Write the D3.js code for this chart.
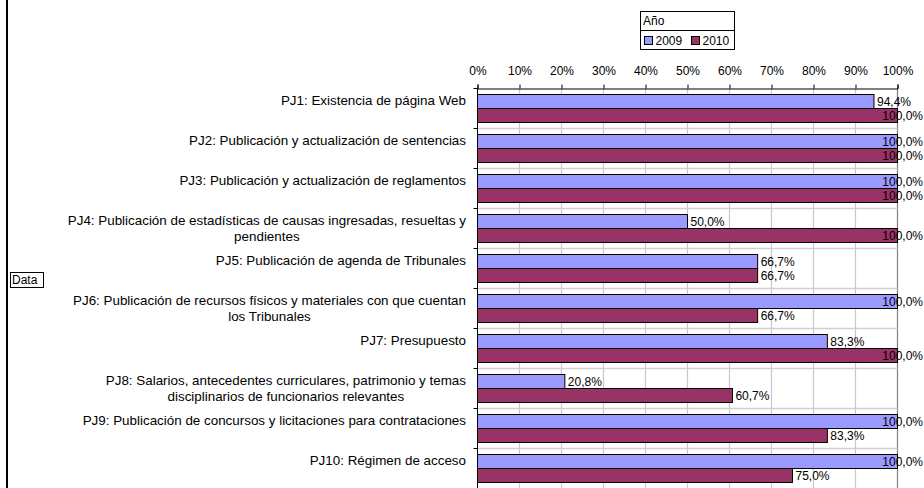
<!DOCTYPE html>
<html>
<head>
<meta charset="utf-8">
<script src="https://cdn.jsdelivr.net/npm/d3@7"></script>
<style>
  html, body { margin: 0; padding: 0; background: #fff; }
  svg { display: block; font-family: "Liberation Sans", Arial, sans-serif; }
</style>
</head>
<body>
<svg id="chart" width="924" height="488"></svg>
<script>
const categories = [
  'PJ1: Existencia de página Web',
  'PJ2: Publicación y actualización de sentencias',
  'PJ3: Publicación y actualización de reglamentos',
  'PJ4: Publicación de estadísticas de causas ingresadas, resueltas y\npendientes',
  'PJ5: Publicación de agenda de Tribunales',
  'PJ6: Publicación de recursos físicos y materiales con que cuentan\nlos Tribunales',
  'PJ7: Presupuesto',
  'PJ8: Salarios, antecedentes curriculares, patrimonio y temas\ndisciplinarios de funcionarios relevantes',
  'PJ9: Publicación de concursos y licitaciones para contrataciones',
  'PJ10: Régimen de acceso'
];
const years = ['2009', '2010'];
const values2009 = [0.944, 1, 1, 0.5, 0.667, 1, 0.833, 0.208, 1, 1];
const values2010 = [1, 1, 1, 1, 0.667, 0.667, 1, 0.607, 0.833, 0.75];
const ticks = [0, 0.1, 0.2, 0.3, 0.4, 0.5, 0.6, 0.7, 0.8, 0.9, 1];
const colors = { '2009': '#9999ff', '2010': '#993366' };

const svg = d3.select('#chart');
const fmtPct = d => d3.format('.1f')(d * 100).replace('.', ',') + '%';

const x = d3.scaleLinear().domain([0, 1]).range([477.5, 897.5]);
const y = d3.scaleBand().domain(categories).range([88.5, 488.5]);
const ySub = d3.scaleBand().domain(years).range([6, 34]);

// left frame edge
svg.append('line').attr('x1', 7).attr('x2', 7).attr('y1', 0).attr('y2', 488)
  .attr('stroke', '#000').attr('stroke-width', 2);

// grid
const grid = svg.append('g');
grid.selectAll('.vg').data(ticks.slice(1)).enter().append('line')
  .attr('x1', d => x(d)).attr('x2', d => x(d))
  .attr('y1', y.range()[0]).attr('y2', y.range()[1])
  .attr('stroke', d => d === 1 ? '#808080' : '#c8c8c8').attr('stroke-width', 1.2);
grid.selectAll('.hg').data(categories.slice(1)).enter().append('line')
  .attr('x1', x(0)).attr('x2', x(1))
  .attr('y1', d => y(d)).attr('y2', d => y(d))
  .attr('stroke', '#d0d0d0').attr('stroke-width', 1.5);

// bars
const rows = categories.map((c, i) => ({ cat: c, vals: [
  { year: '2009', v: values2009[i] }, { year: '2010', v: values2010[i] }
] }));
const rowG = svg.selectAll('.row').data(rows).enter().append('g')
  .attr('transform', d => `translate(0,${y(d.cat)})`);
rowG.selectAll('rect').data(d => d.vals).enter().append('rect')
  .attr('x', x(0)).attr('y', d => ySub(d.year))
  .attr('width', d => x(d.v) - x(0)).attr('height', ySub.bandwidth())
  .attr('fill', d => colors[d.year]).attr('stroke', '#000').attr('stroke-width', 1);
rowG.selectAll('.val').data(d => d.vals).enter().append('text')
  .attr('font-size', 12).attr('fill', '#000')
  .attr('y', d => ySub(d.year) + ySub.bandwidth() / 2 + 4)
  .text(d => fmtPct(d.v))
  .each(function (d) {
    const w = this.getComputedTextLength();
    let px = x(d.v) + 3;
    if (px + w > 923) px = 923 - w;
    d3.select(this).attr('x', px);
  });

// axes
const xAxis = d3.axisTop(x).tickValues(ticks).tickSize(4).tickFormat(d => Math.round(d * 100) + '%');
const gx = svg.append('g').attr('transform', `translate(0,${y.range()[0]})`).call(xAxis);
gx.select('.domain').attr('stroke', '#000');
gx.selectAll('.tick line').attr('stroke', '#000');
gx.selectAll('.tick text').attr('font-size', 12).attr('font-family', 'Liberation Sans, Arial, sans-serif')
  .attr('fill', '#000').attr('y', -14);

svg.append('line').attr('x1', x(0)).attr('x2', x(0))
  .attr('y1', y.range()[0]).attr('y2', y.range()[1]).attr('stroke', '#000');
svg.selectAll('.ytick').data(categories).enter().append('line')
  .attr('x1', x(0) - 4).attr('x2', x(0))
  .attr('y1', d => y(d)).attr('y2', d => y(d)).attr('stroke', '#000');

// category labels: laid out in a two-line box centred on the band, top aligned
const lineH = 16;
svg.selectAll('.cat').data(categories).enter().append('g').each(function (c) {
  const lines = c.split('\n');
  const g = d3.select(this);
  const top = y(c) + y.bandwidth() / 2 - lineH / 2;
  const texts = lines.map((ln, i) => g.append('text').attr('font-size', 13.4).attr('fill', '#000')
    .attr('y', top + i * lineH + 4).text(ln));
  if (lines.length === 1) {
    texts[0].attr('x', 466).attr('text-anchor', 'end');
  } else {
    const maxW = d3.max(texts, t => t.node().getComputedTextLength());
    texts.forEach(t => t.attr('x', 466 - maxW / 2).attr('text-anchor', 'middle'));
  }
});

// legend
const lg = svg.append('g');
lg.append('rect').attr('x', 640.5).attr('y', 11.5).attr('width', 94).attr('height', 38)
  .attr('fill', '#fff').attr('stroke', '#000');
lg.append('line').attr('x1', 640.5).attr('x2', 734.5).attr('y1', 30.5).attr('y2', 30.5).attr('stroke', '#000');
lg.append('text').attr('x', 643).attr('y', 25).attr('font-size', 12).text('Año');
const legX = d3.scaleOrdinal().domain(years).range([644.5, 691.5]);
years.forEach(yr => {
  lg.append('rect').attr('x', legX(yr)).attr('y', 36.5).attr('width', 8).attr('height', 8)
    .attr('fill', colors[yr]).attr('stroke', '#000');
  lg.append('text').attr('x', legX(yr) + 11).attr('y', 45).attr('font-size', 12).text(yr);
});

// "Data" field button
svg.append('rect').attr('x', 10.5).attr('y', 272.5).attr('width', 33).attr('height', 15)
  .attr('fill', '#fff').attr('stroke', '#000');
svg.append('text').attr('x', 12).attr('y', 284).attr('font-size', 12).text('Data');
</script>
</body>
</html>
